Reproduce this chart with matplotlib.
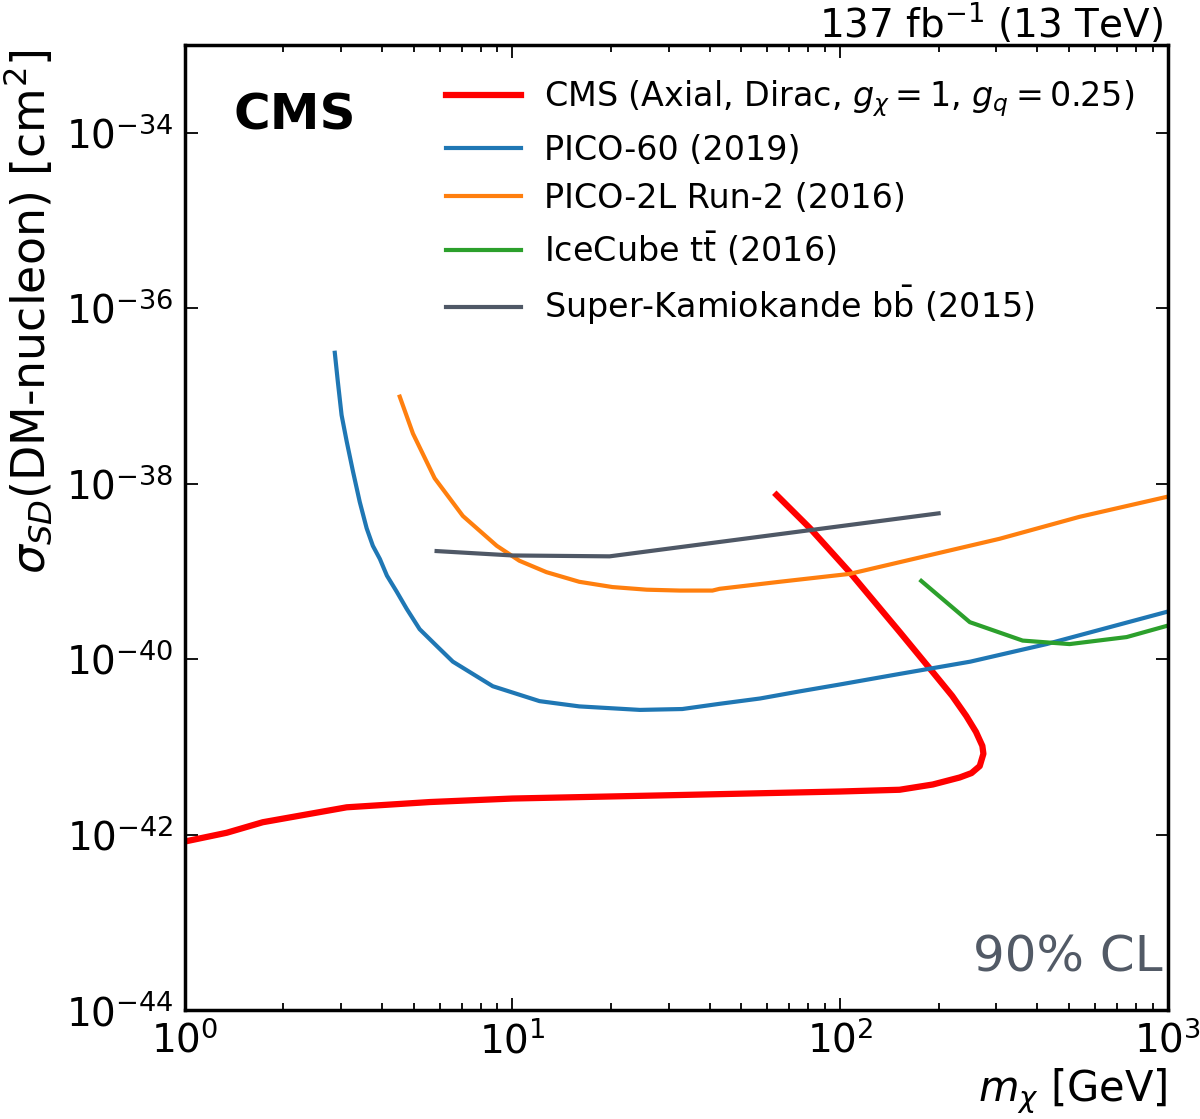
import numpy as np
import matplotlib
matplotlib.use("Agg")
import matplotlib.pyplot as plt
from matplotlib.ticker import FixedLocator, NullLocator, LogLocator

# CMS limit (goes right along the bottom, turns, then back up-left); log10 of sigma
cms_m = [1.0, 1.343, 1.73, 3.12, 5.6, 10.0, 32.3, 100.0, 152.0, 192.0, 232.0, 252.0, 267.0, 274.0,
         272.0, 260.0, 243.0, 220.0, 192.0, 152.0, 107.0, 81.0, 64.0]
cms_s = [-42.08, -41.98, -41.86, -41.69, -41.63, -41.59, -41.55, -41.51, -41.49, -41.43, -41.35, -41.30, -41.22, -41.08,
         -40.99, -40.83, -40.65, -40.42, -40.15, -39.69, -39.01, -38.51, -38.13]

# PICO-60 (2019)
pico60_m = [2.87, 2.93, 3.01, 3.12, 3.26, 3.42, 3.59, 3.75, 3.94, 4.14, 4.43, 4.76, 5.21, 5.87, 6.58, 8.71,
            12.1, 16.0, 24.5, 33.0, 43.0, 57.0, 75.0, 100.0, 152.0, 250.0, 427.0, 1000.0]
pico60_s = [-36.51, -36.83, -37.22, -37.52, -37.86, -38.21, -38.51, -38.71, -38.86, -39.05, -39.23, -39.43, -39.66,
            -39.85, -40.03, -40.31, -40.48, -40.54, -40.58, -40.57, -40.51, -40.45, -40.37, -40.29, -40.17, -40.03,
            -39.83, -39.46]

# PICO-2L Run-2 (2016)
pico2l_m = [4.53, 4.97, 5.79, 7.06, 8.96, 10.5, 12.7, 16.0, 20.2, 25.7, 32.4, 40.8, 42.9, 65.4, 107.0, 307.0,
            538.0, 1000.0]
pico2l_s = [-37.01, -37.43, -37.94, -38.37, -38.71, -38.88, -39.01, -39.12, -39.18, -39.21, -39.22, -39.22, -39.20,
            -39.12, -39.03, -38.63, -38.38, -38.15]

# IceCube ttbar (2016)
ice_m = [177.0, 249.0, 361.0, 502.0, 750.0, 1000.0]
ice_s = [-39.11, -39.58, -39.79, -39.83, -39.75, -39.62]

# Super-Kamiokande bbbar (2015)
sk_m = [5.87, 10.0, 19.8, 200.0]
sk_s = [-38.77, -38.82, -38.83, -38.34]

labels = [r'CMS (Axial, Dirac, $g_{\chi} = 1$, $g_{q} = 0.25$)',
          'PICO-60 (2019)',
          'PICO-2L Run-2 (2016)',
          r'IceCube $\mathrm{t\bar{t}}$ (2016)',
          r'Super-Kamiokande $\mathrm{b\bar{b}}$ (2015)']

fig = plt.figure(figsize=(12, 11.19), dpi=100)
ax = fig.add_axes([0.154, 0.0974, 0.819, 0.8626])

ax.plot(cms_m, 10.0 ** np.array(cms_s), color='#ff0000', lw=4.5, label=labels[0])
ax.plot(pico60_m, 10.0 ** np.array(pico60_s), color='#1f77b4', lw=3, label=labels[1])
ax.plot(pico2l_m, 10.0 ** np.array(pico2l_s), color='#ff7f0e', lw=3, label=labels[2])
ax.plot(ice_m, 10.0 ** np.array(ice_s), color='#2ca02c', lw=3, label=labels[3])
ax.plot(sk_m, 10.0 ** np.array(sk_s), color='#4f5866', lw=3, label=labels[4])

ax.set_xscale('log')
ax.set_yscale('log')
ax.set_xlim(1, 1000)
ax.set_ylim(1e-44, 1e-33)

ax.yaxis.set_major_locator(FixedLocator(10.0 ** np.arange(-44, -33, 2)))
ax.yaxis.set_minor_locator(NullLocator())
ax.xaxis.set_minor_locator(LogLocator(base=10, subs=np.arange(2, 10)))

ax.tick_params(which='both', direction='in', top=True, right=True, labelsize=28, width=1.3)
ax.tick_params(which='major', length=9, pad=8)
ax.tick_params(which='minor', length=5)
for sp in ax.spines.values():
    sp.set_linewidth(2.5)

ax.set_xlabel(r'$m_{\chi}$ [GeV]', fontsize=30, loc='right')
ax.set_ylabel(r'$\sigma_{SD}$(DM-nucleon) [cm$^2$]', fontsize=33, loc='top')
ax.yaxis.set_label_coords(-0.133, 0.995)

ax.text(0.05, 0.912, 'CMS', transform=ax.transAxes, fontsize=36, fontweight='bold', va='baseline')
ax.text(0.995, 0.04, '90% CL', transform=ax.transAxes, fontsize=36, color='#525a66', ha='right', va='baseline')
ax.text(0.995, 1.008, r'137 fb$^{-1}$ (13 TeV)', transform=ax.transAxes, fontsize=28, ha='right', va='baseline')

ax.legend(loc='upper right', frameon=False, fontsize=24, handlelength=2.25, handletextpad=0.7,
          labelspacing=0.45, borderaxespad=0.6)

fig.savefig('out.png', dpi=100)
